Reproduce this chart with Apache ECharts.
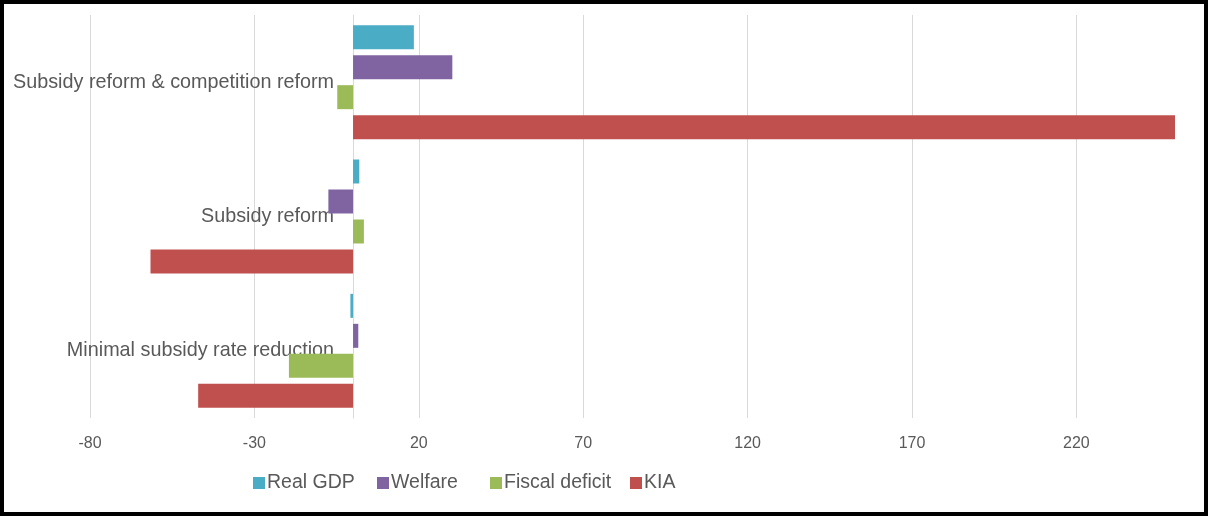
<!DOCTYPE html>
<html>
<head>
<meta charset="utf-8">
<script src="https://cdn.jsdelivr.net/npm/echarts@6/dist/echarts.min.js"></script>
<style>
html,body{margin:0;padding:0;background:#fff;}
#chart{width:1208px;height:516px;}
</style>
</head>
<body>
<div id="chart"></div>
<script>
// Categories (bottom to top, as the category y axis runs upward)
const categories = ['Minimal subsidy rate reduction', 'Subsidy reform', 'Subsidy reform & competition reform'];
const seriesNames = ['Real GDP', 'Welfare', 'Fiscal deficit', 'KIA'];
const realGDP = [-0.8, 1.9, 18.5];
const welfare = [1.6, -7.5, 30.2];
const fiscalDeficit = [-19.5, 3.3, -4.8];
const kia = [-47.1, -61.6, 250];
const xMin = -80, xMax = 252, xInterval = 50;

const colors = {'Real GDP':'#4BACC6','Welfare':'#8064A2','Fiscal deficit':'#9BBB59','KIA':'#C0504D'};
const valuesByName = {'Real GDP':realGDP,'Welfare':welfare,'Fiscal deficit':fiscalDeficit,'KIA':kia};
const legendLefts = [253, 377, 490, 630];

const chart = echarts.init(document.getElementById('chart'), null, {renderer:'canvas'});
const font = '"Liberation Sans", Arial, sans-serif';
const gridLeft = 90, gridRight = 26.4;
const plotW = 1208 - gridLeft - gridRight;
const zeroOffset = (0 - xMin) / (xMax - xMin) * plotW;
chart.setOption({
  animation:false,
  textStyle:{fontFamily:font},
  grid:{left:gridLeft, right:gridRight, top:15, bottom:98, containLabel:false, outerBoundsMode:'none'},
  legend: seriesNames.map((n, i) => ({
    data:[n],
    left:legendLefts[i], top:473, padding:0,
    itemWidth:12, itemHeight:12,
    icon:'rect',
    textStyle:{fontSize:19.5, color:'#595959', fontFamily:font, padding:[0,0,0,-3]}
  })),
  xAxis:{
    type:'value', min:xMin, max:xMax, interval:xInterval,
    axisLine:{show:false}, axisTick:{show:false},
    axisLabel:{fontSize:16, color:'#595959', margin:18, showMaxLabel:false},
    splitLine:{show:true, showMaxLine:false, lineStyle:{color:'#D9D9D9', width:1}}
  },
  yAxis:{
    type:'category', data:categories,
    offset:-zeroOffset,
    axisLine:{show:true, onZero:false, lineStyle:{color:'#D9D9D9', width:1}},
    axisTick:{show:false},
    axisLabel:{fontSize:19.8, color:'#595959', margin:19}
  },
  series: seriesNames.map(n => ({
    name:n, type:'bar', data:valuesByName[n],
    barWidth:24, barGap:'25%',
    itemStyle:{color:colors[n]}
  })),
  graphic:[{
    type:'rect', silent:true, z:100,
    shape:{x:2, y:2, width:1204, height:512},
    style:{fill:'none', stroke:'#000', lineWidth:4}
  }]
});
</script>
</body>
</html>
